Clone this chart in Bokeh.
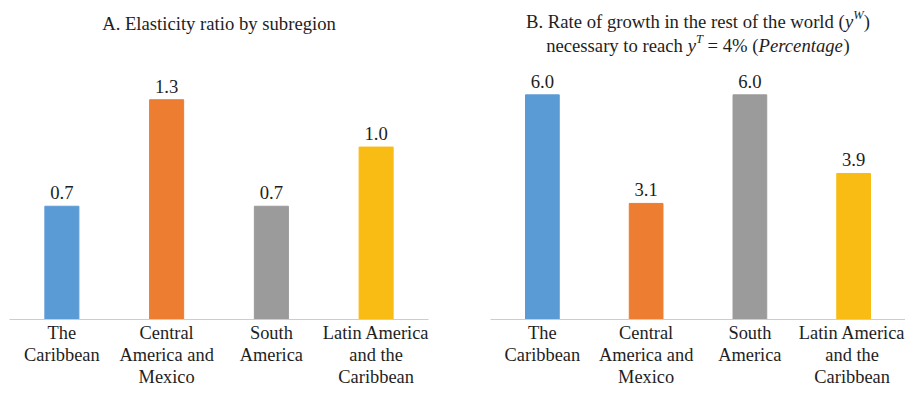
from bokeh.plotting import figure
from bokeh.models import ColumnDataSource, LabelSet, Label, FactorRange, Range1d
from bokeh.layouts import row
from bokeh.core.properties import value
from bokeh.embed import file_html
from bokeh.resources import INLINE

# ---------------- data ----------------
categories = ["The\nCaribbean", "Central\nAmerica and\nMexico", "South\nAmerica",
              "Latin America\nand the\nCaribbean"]
elasticity = [0.67, 1.30, 0.67, 1.02]
growth_needed = [6.0, 3.1, 6.0, 3.9]
bar_colors = ["#5B9BD5", "#ED7D31", "#9B9B9B", "#F9BC15"]
title_a = "A. Elasticity ratio by subregion"

FONT = "Liberation Serif"
TXT = "#1e1e1e"


def make_panel(vals, width, border_left, border_right, y_end):
    src = ColumnDataSource(dict(cat=categories, val=vals, color=bar_colors,
                                lbl=[f"{v:.1f}" for v in vals]))
    p = figure(x_range=FactorRange(*categories), y_range=Range1d(0, y_end),
               width=width, height=389, toolbar_location=None, output_backend="svg",
               y_axis_location=None, min_border_left=border_left,
               min_border_right=border_right, min_border_top=0, min_border_bottom=40)
    p.vbar(x="cat", top="val", width=0.325, color="color", source=src)
    p.add_layout(LabelSet(x="cat", y="val", text="lbl", source=src, y_offset=7,
                          text_align="center", text_baseline="alphabetic",
                          text_font=value(FONT), text_font_size=value("18.67px"),
                          text_color=TXT))
    p.outline_line_color = None
    p.xgrid.grid_line_color = None
    p.ygrid.grid_line_color = None
    ax = p.xaxis[0]
    ax.axis_line_color = "#CDCDCD"
    ax.axis_line_width = 1.2
    ax.major_tick_line_color = None
    ax.minor_tick_line_color = None
    ax.major_tick_out = 0
    ax.major_tick_in = 0
    ax.major_label_text_font = FONT
    ax.major_label_text_font_size = "18.4px"
    ax.major_label_text_color = TXT
    ax.major_label_text_line_height = 1.1
    ax.major_label_standoff = 3
    ax.major_label_orientation = "horizontal"
    return p


p1 = make_panel(elasticity, 458, 9, 30, 1.887)
p2 = make_panel(growth_needed, 447, 32, 0, 8.52)

p1.add_layout(Label(x=2.0, y=p1.y_range.end, y_offset=-23, text=title_a,
                    text_align="center", text_baseline="alphabetic",
                    text_font=FONT, text_font_size="18.67px", text_color=TXT))

# ----- panel B title built from pieces (italic y, superscripts) -----
REG = {' ': 250, '.': 250, '(': 333, ')': 333, '=': 564, '%': 833, '4': 500, 'B': 667,
       'R': 667, 'a': 444, 'c': 444, 'd': 500, 'e': 444, 'f': 333, 'g': 500, 'h': 500,
       'i': 278, 'l': 278, 'n': 500, 'o': 500, 'r': 333, 's': 389, 't': 278, 'w': 722,
       'y': 500}
ITA = {'y': 444, 'W': 833, 'T': 556, 'P': 611, 'e': 444, 'r': 389, 'c': 444, 'n': 500,
       't': 278, 'a': 500, 'g': 500, ' ': 250}
F = 18.67
FSUP = 12.5


def tw(s, italic, size):
    table = ITA if italic else REG
    return sum(table[ch] for ch in s) / 1000.0 * size


line1 = [("B. Rate of growth in the rest of the world (", False, F, 0),
         ("y", True, F, 0), ("W", True, FSUP, 6.6), (")", False, F, 0)]
line2 = [("necessary to reach ", False, F, 0), ("y", True, F, 0), ("T", True, FSUP, 6.6),
         (" = 4% (", False, F, 0), ("Percentage", True, F, 0), (")", False, F, 0)]

for pieces, yoff in ((line1, -21), (line2, -45)):
    total = sum(tw(s, it, sz) for s, it, sz, _ in pieces)
    x = -total / 2.0
    for s, it, sz, rise in pieces:
        stripped = s.lstrip(" ")
        lead = tw(s[:len(s) - len(stripped)], it, sz)
        p2.add_layout(Label(x=2.0, y=p2.y_range.end, x_offset=x + lead,
                            y_offset=yoff + rise, text=stripped.rstrip(" "),
                            text_align="left", text_baseline="alphabetic",
                            text_font=FONT, text_font_size=f"{sz}px",
                            text_font_style="italic" if it else "normal",
                            text_color=TXT))
        x += tw(s, it, sz)

layout = row(p1, p2)
open("out.html", "w").write(file_html(layout, INLINE))
